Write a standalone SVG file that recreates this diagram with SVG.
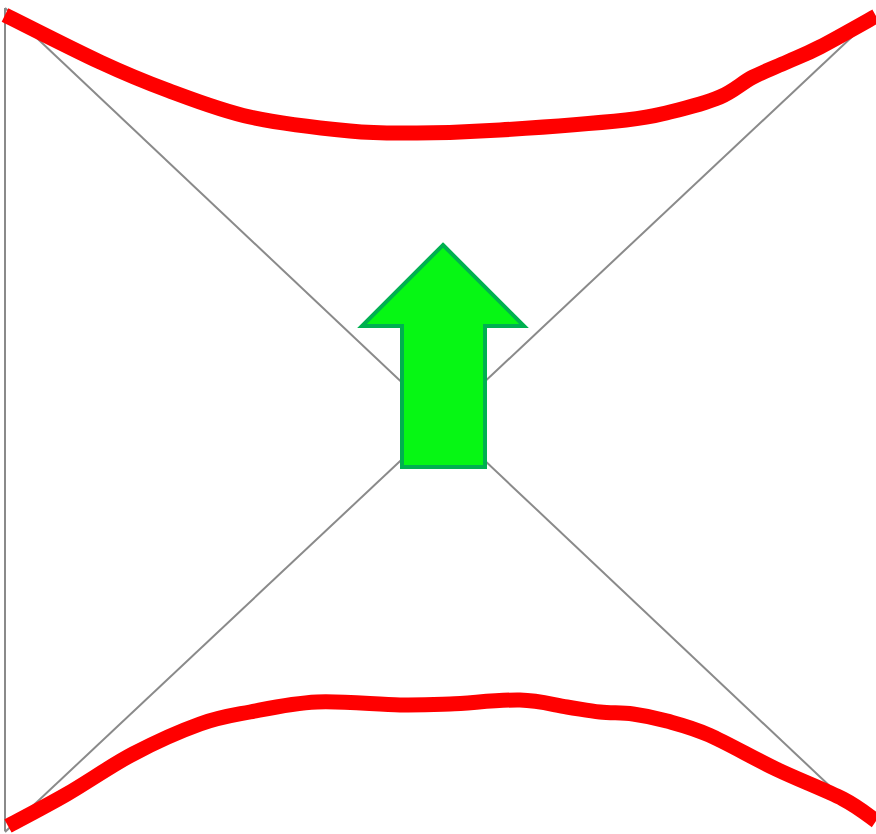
<svg xmlns="http://www.w3.org/2000/svg" width="876" height="834" viewBox="0 0 876 834">
<style>
.guide{stroke:#8a8a8a;stroke-width:2;fill:none}
.curve{stroke:#ff0000;stroke-width:15;fill:none;stroke-linecap:butt;stroke-linejoin:round}
.arrow{fill:#06f714;stroke:#00b050;stroke-width:4;stroke-linejoin:miter}
</style>
<rect width="876" height="834" fill="#ffffff"/>
<g id="guides">
<line class="guide" x1="5" y1="8" x2="5" y2="831"/>
<line class="guide" x1="5" y1="8" x2="870" y2="824"/>
<line class="guide" x1="5" y1="832" x2="855" y2="34"/>
</g>
<g id="top-curve">
<path class="curve" d="M5,15 C20.8,22.8 73,49.5 100,62 C127,74.5 142,80.8 167,90 C192,99.2 219.5,110.2 250,117 C280.5,123.8 322.2,128.3 350,131 C377.8,133.7 392,133.2 417,133 C442,132.8 465.2,132.2 500,130 C534.8,127.8 597.7,123 626,120 C654.3,117 654.3,115.8 670,112 C685.7,108.2 706.2,102.8 720,97 C733.8,91.2 741.8,82.8 753,77 C764.2,71.2 775.8,67 787,62 C798.2,57 805.2,54.7 820,47 C834.8,39.3 866.7,21.2 876,16"/>
</g>
<g id="bottom-curve">
<path class="curve" d="M8,826 C17.8,820.7 46.2,806 67,794 C87.8,782 110.8,765.7 133,754 C155.2,742.3 180.5,731 200,724 C219.5,717 230.5,715.7 250,712 C269.5,708.3 292,703.2 317,702 C342,700.8 377.8,704.7 400,705 C422.2,705.3 430,704.8 450,704 C470,703.2 500.5,699.5 520,700 C539.5,700.5 553.7,705 567,707 C580.3,709 589,710.8 600,712 C611,713.2 621.8,712.5 633,714 C644.2,715.5 654.3,717.5 667,721 C679.7,724.5 690.8,727 709,735 C727.2,743 753.7,758.3 776,769 C798.3,779.7 826.3,790.3 843,799 C859.7,807.7 870.5,817.3 876,821"/>
</g>
<g id="up-arrow">
<polygon class="arrow" points="443,245 524,326 485,326 485,467 402,467 402,326 362,326"/>
</g>
</svg>
